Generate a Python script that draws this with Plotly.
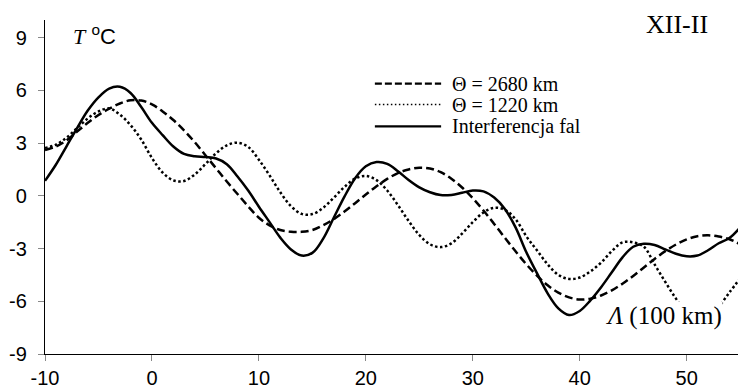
import plotly.graph_objects as go

# Lambda (100 km)
lam = [-10, -9, -8, -7, -6, -5, -4, -3, -2, -1, 0, 1, 2, 3, 4, 5, 6, 7, 8, 9,
       10, 11, 12, 13, 14, 15, 16, 17, 18, 19, 20, 21, 22, 23, 24, 25, 26, 27, 28, 29,
       30, 31, 32, 33, 34, 35, 36, 37, 38, 39, 40, 41, 42, 43, 44, 45, 46, 47, 48, 49,
       50, 51, 52, 53, 54, 55]

# Theta = 2680 km (dashed)
wave_2680 = [2.6, 2.8, 3.15, 3.65, 4.15, 4.6, 4.95, 5.25, 5.43, 5.42,
             5.2, 4.8, 4.31, 3.72, 3.05, 2.31, 1.56, 0.81, 0.1, -0.6,
             -1.25, -1.68, -1.95, -2.05, -2.05, -1.95, -1.68, -1.33, -0.9, -0.42,
             0.07, 0.54, 0.96, 1.29, 1.5, 1.6, 1.55, 1.34, 0.97, 0.47,
             -0.14, -0.84, -1.6, -2.39, -3.16, -3.89, -4.54, -5.09, -5.51, -5.78,
             -5.9, -5.85, -5.67, -5.38, -5.0, -4.56, -4.08, -3.59, -3.15, -2.77,
             -2.48, -2.3, -2.25, -2.32, -2.47, -2.75]

# Theta = 1220 km (dotted)
wave_1220 = [2.72, 2.9, 3.3, 3.85, 4.4, 4.8, 4.97, 4.62, 4.02, 3.2,
             2.15, 1.32, 0.88, 0.84, 1.21, 1.8, 2.42, 2.87, 3.02, 2.78,
             2.05, 1.16, 0.2, -0.59, -1.03, -1.04, -0.69, -0.11, 0.5, 0.98,
             1.13, 0.89, 0.3, -0.53, -1.43, -2.23, -2.76, -2.92, -2.71, -2.15,
             -1.5, -0.95, -0.68, -0.8, -1.33, -2.3, -3.1, -3.9, -4.5, -4.73,
             -4.65, -4.3, -3.8, -3.15, -2.65, -2.65, -2.9, -3.9, -4.9, -5.85,
             -6.65, -7.0, -6.85, -6.3, -5.5, -4.7]

# Interferencja fal (solid)
interference = [0.85, 1.75, 2.8, 3.85, 4.85, 5.6, 6.1, 6.2, 5.85, 5.05,
                4.15, 3.45, 2.8, 2.38, 2.25, 2.2, 2.12, 1.8, 1.1, 0.3,
                -0.62, -1.5, -2.38, -3.05, -3.4, -3.25, -2.45, -1.25, -0.05, 1.0,
                1.68, 1.92, 1.82, 1.4, 0.9, 0.48, 0.2, 0.04, 0.05, 0.17,
                0.3, 0.25, -0.1, -0.75, -1.8, -3.2, -4.4, -5.55, -6.4, -6.78,
                -6.55, -5.95, -5.2, -4.35, -3.5, -2.9, -2.73, -2.8, -3.05, -3.3,
                -3.44, -3.4, -3.1, -2.7, -2.4, -1.8]

x_ticks = [-10, 0, 10, 20, 30, 40, 50]
y_ticks = [-9, -6, -3, 0, 3, 6, 9]

series_names = ["\u0398 = 2680 km", "\u0398 = 1220 km", "Interferencja fal"]

SERIF = "Liberation Serif, Times New Roman, serif"
SANS = "Liberation Sans, Arial, sans-serif"

fig = go.Figure()
fig.add_trace(go.Scatter(x=lam, y=wave_2680, mode="lines", name=series_names[0],
                         line=dict(color="black", width=2.5, dash="8px,4px", shape="spline", smoothing=1)))
fig.add_trace(go.Scatter(x=lam, y=wave_1220, mode="lines", name=series_names[1],
                         line=dict(color="black", width=2.5, dash="2.5px,2.5px", shape="spline", smoothing=1)))
fig.add_trace(go.Scatter(x=lam, y=interference, mode="lines", name=series_names[2],
                         line=dict(color="black", width=2.5, shape="spline", smoothing=1)))

# custom legend (samples + labels) in paper coordinates
legend_rows = [0.8095, 0.747, 0.6815]
legend_dash = ["7px,3px", "1.5px,2.5px", "solid"]
legend_width = [2.2, 1.5, 2.2]
shapes = []
annotations = []
for i, name in enumerate(series_names):
    shapes.append(dict(type="line", xref="paper", yref="paper",
                       x0=0.476, x1=0.5716, y0=legend_rows[i], y1=legend_rows[i],
                       line=dict(color="black", width=legend_width[i], dash=legend_dash[i])))
    annotations.append(dict(xref="paper", yref="paper", x=0.5843, y=legend_rows[i],
                            xanchor="left", yanchor="middle", showarrow=False,
                            text=name, font=dict(family=SERIF, size=20, color="black")))

annotations.append(dict(xref="paper", yref="paper", x=0.038, y=1.0, xanchor="left", yanchor="top",
                        showarrow=False, yshift=1,
                        text="<span style='font-family:Liberation Serif'><i>T</i></span> <sup>o</sup>C",
                        font=dict(family=SANS, size=22, color="black")))
annotations.append(dict(xref="paper", yref="paper", x=0.9596, y=1.0, xanchor="right", yanchor="bottom",
                        showarrow=False, yshift=-21,
                        text="XII-II", font=dict(family=SERIF, size=26, color="black")))
annotations.append(dict(xref="paper", yref="paper", x=0.978, y=0.115, xanchor="right", yanchor="middle",
                        showarrow=False, bgcolor="white", borderpad=0,
                        text="<i>\u039b</i> (100 km)", font=dict(family=SERIF, size=25, color="black")))

fig.update_layout(
    width=738, height=389,
    margin=dict(l=45, r=0, t=20, b=33),
    paper_bgcolor="white", plot_bgcolor="white",
    showlegend=False,
    shapes=shapes,
    annotations=annotations,
    xaxis=dict(range=[-10, 54.8], tickvals=x_ticks, ticktext=[str(v) for v in x_ticks],
               showgrid=False, zeroline=False, showline=True, linecolor="black", linewidth=1.3,
               ticks="outside", ticklen=6, tickcolor="#888", tickwidth=1,
               tickfont=dict(family=SANS, size=20, color="black")),
    yaxis=dict(range=[-9, 10], tickvals=y_ticks, ticktext=[str(v) for v in y_ticks],
               showgrid=False, zeroline=False, showline=True, linecolor="black", linewidth=1.3,
               ticks="outside", ticklen=6, tickcolor="#888", tickwidth=1, ticklabelstandoff=7,
               tickfont=dict(family=SANS, size=20, color="black")),
)

fig.write_html("out.html", config=dict(displayModeBar=False),
               post_script="document.body.style.margin='0';document.body.style.overflow='hidden';")
